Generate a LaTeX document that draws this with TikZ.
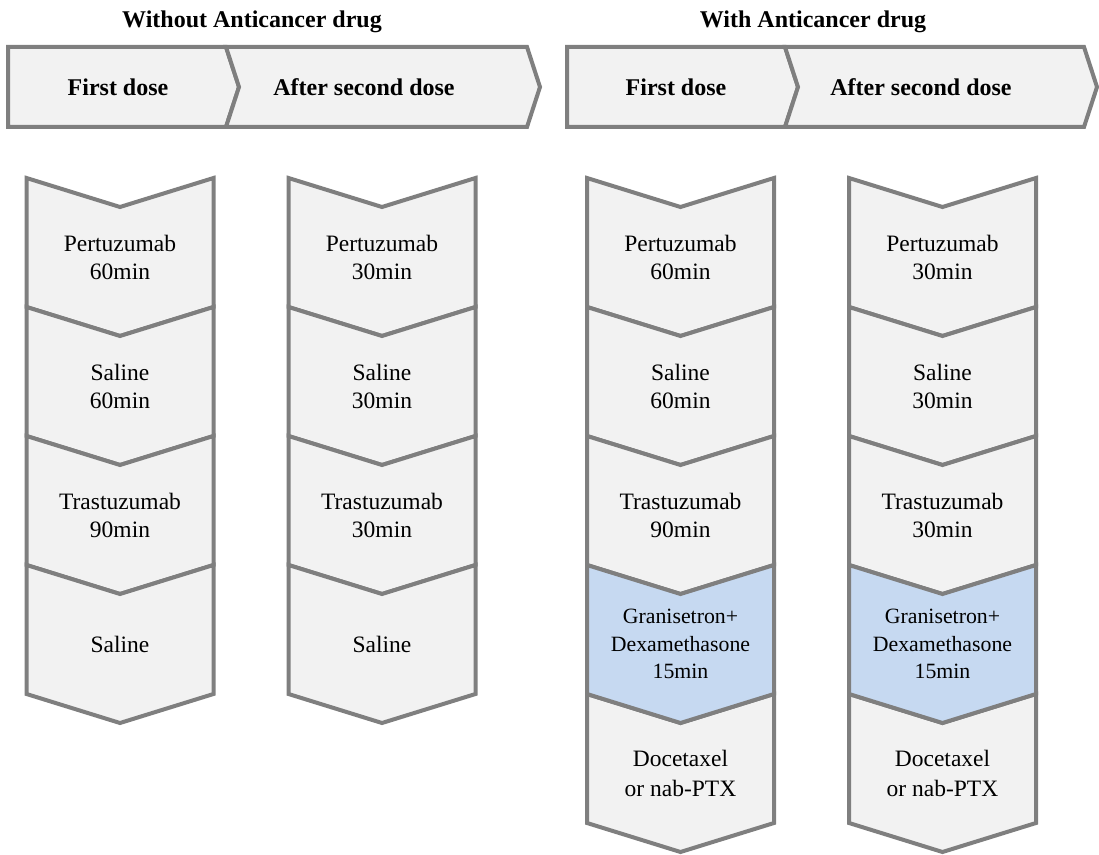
\documentclass[tikz,border=0pt]{standalone}
\usepackage{fontspec}
\setmainfont{LiberationSerif}[Extension=.ttf, UprightFont=*-Regular, BoldFont=*-Bold, ItalicFont=*-Italic, BoldItalicFont=*-BoldItalic]
\usepackage{tikz}
\definecolor{chevgray}{RGB}{127,127,127}
\definecolor{chevfill}{RGB}{242,242,242}
\definecolor{chevblue}{RGB}{198,217,241}
\tikzset{
    every node/.style={align=center, inner sep=0mm, font=\fontsize{11.75}{14}\selectfont},
    chev/.style={draw=chevgray, line width=2pt, line join=miter, fill=chevfill},
    headtext/.style={font=\fontsize{12}{14}\selectfont\bfseries},
    smalltext/.style={font=\fontsize{10.9}{13.8}\selectfont}
}
% one step of a column: centre x, top corner y, fill
\newcommand{\stepchev}[3]{%
  \draw[chev, fill=#3] (#1-93.5,#2) -- (#1,#2+29) -- (#1+93.5,#2)
    -- (#1+93.5,#2+129) -- (#1,#2+158) -- (#1-93.5,#2+129) -- cycle;}

\begin{document}
\begin{tikzpicture}[x=0.5pt, y=-0.5pt]
  \useasboundingbox (0,0) rectangle (1099,855);

  % headings
  \node[headtext] (wo) at (252,22) {Without Anticancer drug};
  \node[headtext] (wi) at (813,22) {With Anticancer drug};

  % header arrows
  \draw[chev] (8,47) -- (226,47) -- (239,87) -- (226,127) -- (8,127) -- cycle;
  \draw[chev] (226,47) -- (527,47) -- (540,87) -- (527,127) -- (226,127) -- (239,87) -- cycle;
  \draw[chev] (567,47) -- (785,47) -- (798,87) -- (785,127) -- (567,127) -- cycle;
  \draw[chev] (785,47) -- (1084,47) -- (1097,87) -- (1084,127) -- (785,127) -- (798,87) -- cycle;

  \node[headtext] (wof) at (118,87) {First dose};
  \node[headtext] (wos) at (364,87) {After second dose};
  \node[headtext] (wif) at (676,87) {First dose};
  \node[headtext] (wis) at (921,87) {After second dose};

  % columns
  \foreach \cx in {120,382} {
    \foreach \k in {0,...,3} {
      \stepchev{\cx}{178+\k*129}{chevfill}
    }
  }
  \foreach \cx in {680.5,942.5} {
    \foreach \k in {0,1,2,4} {
      \stepchev{\cx}{178+\k*129}{chevfill}
    }
    \stepchev{\cx}{565}{chevblue}
  }

  % without anticancer drug, first dose
  \node (a1) at (120,257) {Pertuzumab\\60min};
  \node (a2) at (120,386) {Saline\\60min};
  \node (a3) at (120,515) {Trastuzumab\\90min};
  \node (a4) at (120,644) {Saline};

  % without anticancer drug, after second dose
  \node (b1) at (382,257) {Pertuzumab\\30min};
  \node (b2) at (382,386) {Saline\\30min};
  \node (b3) at (382,515) {Trastuzumab\\30min};
  \node (b4) at (382,644) {Saline};

  % with anticancer drug, first dose
  \node (c1) at (680.5,257) {Pertuzumab\\60min};
  \node (c2) at (680.5,386) {Saline\\60min};
  \node (c3) at (680.5,515) {Trastuzumab\\90min};
  \node[smalltext] (c4) at (680.5,644) {Granisetron+\\Dexamethasone\\15min};
  \node[font=\fontsize{11.75}{15}\selectfont] (c5) at (680.5,773) {Docetaxel\\or nab-PTX};

  % with anticancer drug, after second dose
  \node (d1) at (942.5,257) {Pertuzumab\\30min};
  \node (d2) at (942.5,386) {Saline\\30min};
  \node (d3) at (942.5,515) {Trastuzumab\\30min};
  \node[smalltext] (d4) at (942.5,644) {Granisetron+\\Dexamethasone\\15min};
  \node[font=\fontsize{11.75}{15}\selectfont] (d5) at (942.5,773) {Docetaxel\\or nab-PTX};

\end{tikzpicture}
\end{document}
